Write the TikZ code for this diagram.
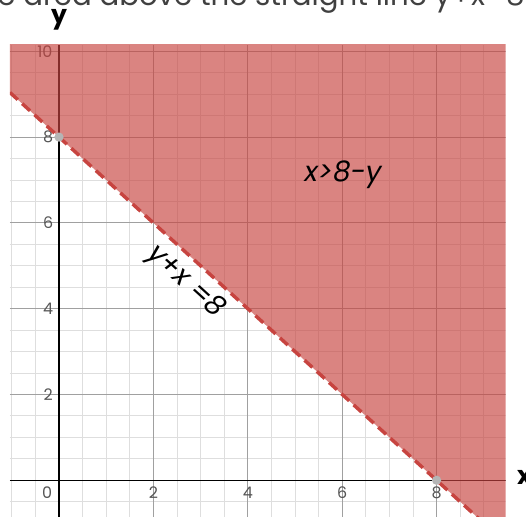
\documentclass[tikz,border=0pt]{standalone}
\usepackage{fontspec}
\setmainfont{Poppins}
\usepackage{tikz}
\usetikzlibrary{positioning}
\definecolor{region}{HTML}{C74440}
\definecolor{gridminor}{HTML}{DEDEDE}
\definecolor{gridmajor}{HTML}{A0A0A0}
\definecolor{ticktext}{HTML}{555555}
\definecolor{pointgray}{HTML}{B5B5B5}
\tikzset{
  ticklabel/.style={text=ticktext, font=\fontsize{12}{12}\selectfont, inner sep=0pt},
  axislabel/.style={font=\bfseries\fontsize{19}{19}\selectfont, inner sep=0pt},
  relation/.style={font=\itshape\fontsize{21}{21}\selectfont, inner sep=0pt},
  boundary/.style={region, line width=2.6pt, dash pattern=on 8pt off 4.5pt},
  intercept/.style={circle, fill=pointgray, inner sep=0pt, minimum size=7pt}
}

\begin{document}
\begin{tikzpicture}[x=1.25cm, y=1.136cm]
  \useasboundingbox (-1.25,-0.855) rectangle (9.894,11.196);
  \def\xl{-1.04} \def\xr{9.46} \def\yb{-0.855} \def\yt{10.15}
  \node[text=black!75, font=\fontsize{22}{22}\selectfont, anchor=base west, inner sep=0pt]
    (caption) at (-1.31,11.06) {e area above the straight line y+x=8};
  \begin{scope}
    \clip (\xl,\yb) rectangle (\xr,\yt);
    \foreach \g in {-1,-0.5,...,9.5}
      \draw[gridminor, line width=0.7pt] (\g,\yb) -- (\g,\yt);
    \foreach \g in {-1,-0.5,...,10.5}
      \draw[gridminor, line width=0.7pt] (\xl,\g) -- (\xr,\g);
    \foreach \g in {2,4,...,8}
      \draw[gridmajor, line width=0.7pt] (\g,\yb) -- (\g,\yt);
    \foreach \g in {2,4,...,10}
      \draw[gridmajor, line width=0.7pt] (\xl,\g) -- (\xr,\g);
    \draw[black, line width=1pt] (\xl,0) -- (\xr,0);
    \draw[black, line width=1pt] (0,\yb) -- (0,\yt);
    \foreach \v in {2,4,6,8}{
      \node[ticklabel] (xtick\v) at (\v,-0.3) {\v};
      \node[ticklabel] (ytick\v) at (-0.23,\v) {\v};
    }
    \node[ticklabel] (ytick10) at (-0.3,10) {10};
    \node[ticklabel] (origin) at (-0.25,-0.3) {0};
    \fill[region, fill opacity=0.66] (\xl,9.04) -- (\xl,11) -- (\xr,11) -- (\xr,-1.46) -- cycle;
    \coordinate (lineL) at (\xl,9.04);
    \coordinate (lineR) at (\xr,-1.46);
    \draw[boundary] (lineL) -- (lineR);
  \end{scope}
  \node[intercept] (yint) at (0,8) {};
  \node[intercept] (xint) at (8,0) {};
  \node[axislabel, anchor=base] (ylabel) at (0,10.65) {y};
  \node[axislabel, anchor=base west] (xlabel) at (9.70,-0.11) {x};
  \node[relation] (ineq) at (6.02,7.12) {x>8-y};
  \node[relation, rotate=-42.3] (eqn) at (2.68,4.62) {y+x =8};
\end{tikzpicture}
\end{document}
